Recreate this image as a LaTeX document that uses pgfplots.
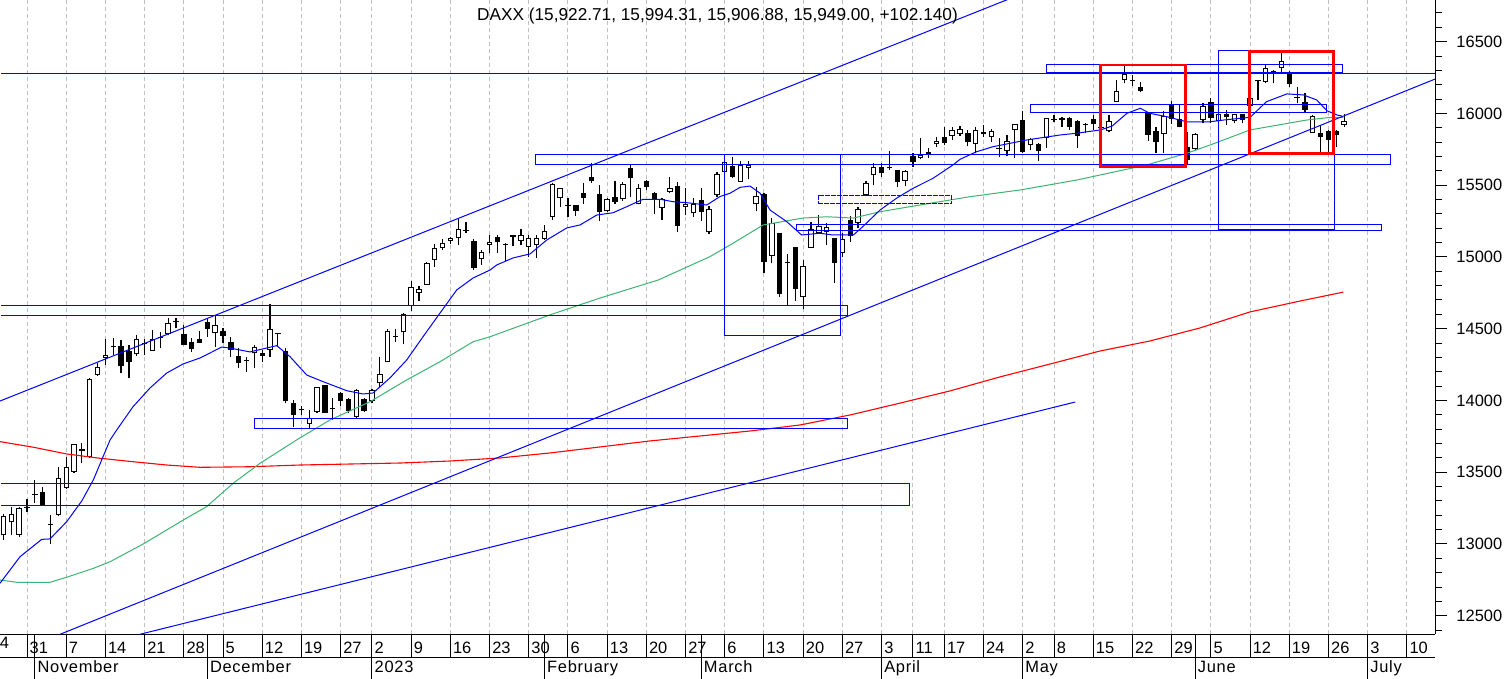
\documentclass[border=0pt]{standalone}
\usepackage{fontspec}
\setmainfont{Liberation Sans}
\usepackage{pgfplots}
\pgfplotsset{compat=1.18}
\usepackage{pgfplotstable}
\definecolor{mablue}{RGB}{0,0,255}
\definecolor{magreen}{RGB}{60,179,113}
\definecolor{gridgray}{RGB}{192,192,192}
\definecolor{mared}{RGB}{255,0,0}

\pgfplotstableread{
x o h l c
2 13062 13209 13027 13197
3 13151 13260 13062 13206
4 13062 13255 13050 13248
5 13253 13313 13225 13260
6 13343 13446 13288 13350
7 13360 13395 13262 13267
8 13140 13202 13000 13133
9 13202 13539 13195 13457
10 13392 13608 13383 13534
11 13504 13694 13492 13694
12 13650 13701 13562 13664
13 13608 14154 13600 14150
14 14180 14263 14173 14231
15 14298 14426 14247 14319
16 14369 14433 14317 14376
17 14379 14421 14189 14242
18 14345 14386 14154 14270
19 14321 14456 14312 14426
20 14393 14426 14317 14400
21 14347 14491 14347 14426
22 14433 14479 14363 14440
23 14461 14572 14456 14537
24 14549 14572 14503 14556
25 14461 14526 14386 14386
26 14410 14433 14340 14359
27 14426 14484 14403 14403
28 14544 14572 14445 14496
29 14468 14595 14375 14526
30 14484 14503 14398 14451
31 14405 14444 14305 14352
32 14310 14363 14224 14263
33 14285 14305 14201 14278
34 14328 14386 14224 14370
35 14330 14352 14270 14310
36 14352 14670 14305 14496
37 14470 14470 14375 14462
38 14345 14363 13984 13996
39 13980 14003 13817 13896
40 13937 13960 13900 13930
41 13834 13933 13799 13880
42 13922 14096 13915 14096
43 14108 14108 13910 13915
44 13940 14015 13864 13947
45 14050 14061 13961 13999
46 14010 14015 13915 13929
47 13887 14078 13880 14073
48 14008 14015 13922 13929
49 13996 14078 13980 14073
50 14119 14305 14084 14182
51 14266 14496 14266 14486
52 14444 14496 14410 14451
53 14475 14612 14391 14602
54 14658 14832 14626 14793
55 14746 14798 14695 14774
56 14805 14968 14805 14956
57 14979 15088 14932 15060
58 15060 15123 15048 15095
59 15111 15141 15088 15130
60 15130 15269 15083 15192
61 15183 15246 15165 15190
62 15111 15123 14909 14925
63 14983 15048 14944 15034
64 15083 15153 15025 15102
65 15137 15153 15030 15102
66 15083 15095 14974 15090
67 15150 15150 15076 15137
68 15111 15193 15083 15151
69 15072 15153 15002 15130
70 15083 15153 14995 15130
71 15125 15223 15118 15181
72 15276 15513 15257 15508
73 15408 15482 15350 15478
74 15357 15408 15281 15364
75 15360 15362 15285 15322
76 15448 15513 15369 15413
77 15555 15652 15518 15532
78 15436 15501 15253 15316
79 15320 15408 15316 15401
80 15415 15529 15369 15385
81 15401 15525 15392 15508
82 15618 15645 15420 15548
83 15367 15508 15367 15478
84 15529 15536 15467 15485
85 15443 15455 15299 15402
86 15339 15408 15257 15401
87 15455 15559 15443 15478
88 15494 15525 15172 15218
89 15350 15478 15292 15369
90 15304 15408 15281 15369
91 15397 15478 15253 15316
92 15172 15355 15158 15332
93 15432 15594 15420 15576
94 15594 15676 15571 15659
95 15634 15699 15548 15559
96 15525 15671 15525 15641
97 15617 15671 15541 15638
98 15367 15490 15322 15427
99 15439 15443 14886 14967
100 15009 15269 14955 15234
101 15165 15169 14723 14739
102 14960 15021 14665 14967
103 15072 15072 14695 14774
104 14718 14979 14635 14937
105 15065 15246 15065 15192
106 15169 15292 15160 15216
107 15176 15234 15083 15211
108 15130 15130 14821 14960
109 15030 15170 15000 15128
110 15257 15285 15106 15146
111 15239 15346 15199 15332
112 15432 15532 15425 15518
113 15569 15652 15501 15624
114 15624 15652 15559 15583
115 15629 15738 15606 15617
116 15606 15606 15490 15525
117 15529 15606 15494 15599
118 15703 15722 15629 15664
119 15687 15827 15680 15710
120 15715 15757 15687 15729
121 15785 15838 15768 15808
122 15833 15908 15780 15792
123 15845 15908 15815 15885
124 15854 15910 15845 15892
125 15862 15885 15770 15803
126 15785 15903 15722 15885
127 15854 15920 15838 15868
128 15834 15892 15804 15878
129 15755 15826 15699 15762
130 15738 15850 15704 15808
131 15885 15924 15692 15924
132 15954 16017 15722 15734
133 15780 15827 15745 15820
134 15785 15792 15671 15741
135 15831 15966 15762 15966
136 15956 15989 15938 15963
137 15954 15978 15908 15966
138 15971 15978 15885 15903
139 15947 15954 15762 15843
140 15921 15931 15862 15928
141 15959 15989 15885 15924
142 15896 15908 15885 15903
143 15880 15989 15868 15950
144 16078 16233 16078 16159
145 16233 16338 16210 16273
146 16228 16268 16191 16235
147 16182 16217 16147 16159
148 16001 16012 15810 15850
149 15878 15908 15727 15803
150 15855 16017 15727 15985
151 16064 16087 15927 15959
152 15961 16064 15903 15903
153 15768 15873 15640 15676
154 15750 15866 15745 15857
155 15955 16071 15931 16052
156 16077 16105 15931 15971
157 15947 15996 15943 15996
158 15996 16024 15919 15973
159 15950 15996 15936 15994
160 15996 15996 15931 15954
161 16054 16110 16047 16105
162 16223 16230 16094 16230
163 16221 16345 16210 16314
164 16291 16303 16210 16298
165 16314 16419 16291 16365
166 16272 16298 16187 16205
167 16105 16182 16070 16112
168 16077 16140 16006 16024
169 15866 15989 15861 15982
170 15861 15919 15734 15838
171 15880 15884 15722 15815
172 15880 15884 15768 15850
173 15922.71 15994.31 15906.88 15949
}\candles

\pgfplotstableread{
x y
1.556 12726
4.11 12911
6.875 13032
7.93 13035
10.06 13155
11.98 13299
13.46 13446
15.59 13724
16.44 13794
18.52 13956
20.69 14087
22.82 14191
24.9 14254
27.07 14296
29.83 14372
30.89 14365
33.44 14338
36.85 14382
38.55 14305
40.68 14177
42.76 14131
45.78 14068
47.86 14045
49.13 14052
51.3 14157
53.43 14282
55.51 14444
57.68 14609
59.81 14770
61.89 14853
64.06 14909
64.91 14944
66.99 14993
69.16 15021
71.29 15118
73.84 15202
75.54 15223
77.67 15292
79.75 15308
81.49 15350
83.57 15402
85.74 15402
87.4 15385
89.15 15378
91.7 15362
93.4 15421
94.67 15444
95.95 15485
97.22 15494
98.5 15444
99.77 15327
101.9 15246
103.8 15153
106.15 15165
107.8 15153
110.4 15153
111.6 15211
113.8 15327
115.9 15409
118 15478
120.56 15548
123.1 15641
124 15680
126.1 15733
128.2 15768
132.5 15815
136.8 15850
138.9 15862
141.9 15885
143.4 15912
145.3 16001
147 16036
148.2 16001
150.4 15977
152.9 15942
155.9 15942
157.6 15954
161 15973
163.1 16082
165.7 16136
167.8 16129
169.5 16094
170.8 16019
172.1 15989
172.7 15982
}\maTwenty

\pgfplotstableread{
x y
1.556 12749
3.69 12733
7.93 12733
10.06 12768
13.46 12830
15.59 12876
19.83 13000
24.94 13167
27.92 13260
31.3 13423
34.72 13562
39.57 13731
43.65 13864
48.75 13991
53.43 14143
57.68 14270
61.89 14409
64.06 14444
71.7 14596
78.1 14714
85.5 14839
92.1 15002
94.67 15083
98.9 15223
103.98 15271
107.04 15280
110.4 15271
113.8 15315
118.9 15362
125.3 15420
131.7 15467
138.9 15536
147.8 15641
152.9 15722
155.9 15780
161 15885
168.2 15954
170.8 15970
172.9 15973
}\maFifty

\pgfplotstableread{
x y
1.556 13713
5.8 13674
10.06 13627
14.31 13597
18.52 13573
22.82 13550
27.07 13534
33.44 13538
39.8 13550
46.2 13557
52.6 13564
58.95 13578
65.3 13599
71.7 13634
78.1 13676
84.5 13718
90.8 13752
97.2 13787
103.6 13829
110 13899
116.4 13982
122.7 14066
129.1 14164
135.5 14254
141.9 14345
148.2 14414
154.6 14505
161 14617
167.4 14693
172.9 14755
}\maTwoHundred

\begin{document}
\begin{tikzpicture}[x=1bp,y=1bp]
\begin{axis}[
  scale only axis, width=1435bp, height=634.3bp,
  xmin=1.5561, xmax=184.592, ymin=12370.4, ymax=16790.6,
  axis x line*=bottom, axis y line*=right,
  axis line style={black, line width=1bp},
  tick align=outside,
  xtick={5,10,15,20,25,30,35,40,45,49,54,59,64,69,74,79,84,89,94,99,104,109,114,118,122,127,132,136,141,146,151,156,161,166,171,176,181},
  xticklabels={31,7,14,21,28,5,12,19,27,2,9,16,23,30,6,13,20,27,6,13,20,27,3,11,17,24,2,8,15,22,29,5,12,19,26,3,10},
  minor x tick num=0,
  xtick style={black, line width=1bp, /pgfplots/major tick length=23.7bp},
  xticklabel style={anchor=base west, inner sep=0pt, xshift=2.5bp, yshift=-14.7bp},
  ytick={12000,12500,...,17000},
  minor y tick num=4,
  scaled y ticks=false,
  ytick style={black, line width=1bp, /pgfplots/major tick length=11.7bp, /pgfplots/minor tick length=6.7bp},
  yticklabel style={anchor=west, inner sep=0pt, xshift=17bp},
  every tick label/.append style={font=\fontsize{16.5}{18}\selectfont},
  /pgf/number format/assume math mode=true,
  /pgf/number format/1000 sep={},
  /pgf/number format/fixed,
]
% weekly grid lines
\pgfplotsinvokeforeach{5,10,15,20,25,30,35,40,45,49,54,59,64,69,74,79,84,89,94,99,104,109,114,118,122,127,132,136,141,146,151,156,161,166,171,176,181}{
  \addplot[gridgray, no markers, line width=1bp, dash pattern=on 4bp off 3bp, forget plot] coordinates {(#1,12370.4) (#1,16790.6)};
}
% wicks
\addplot[only marks, mark options={draw=none,fill=none}, mark size=0pt,
  error bars/.cd, y dir=plus, y explicit, error mark=none,
  error bar style={line width=1.2bp, black, solid}]
  table[x=x, y=l, y error expr={\thisrow{h}-\thisrow{l}}] {\candles};
% bodies
\addplot[only marks, mark options={draw=none,fill=none}, mark size=0pt,
  error bars/.cd, y dir=plus, y explicit, error mark=none,
  error bar style={line width=5.4bp, black, solid}]
  table[x=x, y expr={min(\thisrow{o},\thisrow{c})}, y error expr={max(abs(\thisrow{c}-\thisrow{o}),7)}] {\candles};
% white inner of rising candles
\addplot[only marks, mark options={draw=none,fill=none}, mark size=0pt,
  restrict expr to domain={\thisrow{c}-\thisrow{o}}{14.5:100000},
  error bars/.cd, y dir=plus, y explicit, error mark=none,
  error bar style={line width=3.4bp, white, solid}]
  table[x=x, y expr={\thisrow{o}+7}, y error expr={\thisrow{c}-\thisrow{o}-14}] {\candles};

% moving averages
\addplot[mared, no markers, line width=1.1bp] table[x=x,y=y] {\maTwoHundred};
\addplot[magreen, no markers, line width=1bp] table[x=x,y=y] {\maFifty};
\addplot[mablue, no markers, line width=1bp] table[x=x,y=y] {\maTwenty};

% trend lines
\addplot[mablue, no markers, line width=1bp] coordinates {(1.5561,13996) (135,16901)};
\addplot[mablue, no markers, line width=1bp] coordinates {(9.21,12370.4) (184.59,16239.4)};
\addplot[mablue, no markers, line width=1bp] coordinates {(19.4,12370.4) (138.7,13989)};
\addplot[draw=mablue, no markers, line width=1bp] coordinates {(1.7,16275) (184.59,16275)};

% boxes
\begin{scope}[line cap=rect]
\addplot[mablue, no markers, line width=1bp] coordinates {(135.0,16285) (172.8,16285) (172.8,16338) (135.0,16338) (135.0,16285)};
\addplot[mablue, no markers, line width=1bp] coordinates {(133.0,16008) (170.8,16008) (170.8,16064) (133.0,16064) (133.0,16008)};
\addplot[mablue, no markers, line width=1bp] coordinates {(69.8,15645.6) (178.9,15645.6) (178.9,15715.3) (69.8,15715.3) (69.8,15645.6)};
\addplot[mablue, no markers, line width=1bp] coordinates {(93.94,14456) (108.79,14456) (108.79,15715.3) (93.94,15715.3) (93.94,14456)};
\addplot[draw=mablue, no markers, line width=1bp] coordinates {(1.7,14593) (109.7,14593) (109.7,14663) (1.7,14663)};
\addplot[mablue, no markers, line width=1bp] coordinates {(34.0,13806) (109.7,13806) (109.7,13876) (34.0,13876) (34.0,13806)};
\addplot[draw=mablue, no markers, line width=1bp] coordinates {(1.7,13264.5) (117.6,13264.5) (117.6,13422.7) (1.7,13422.7)};
\addplot[mablue, no markers, line width=1bp, dash pattern=on 4bp off 2bp] coordinates {(105.9,15369) (122.9,15369) (122.9,15430) (105.9,15430) (105.9,15369)};
\addplot[mablue, no markers, line width=1bp] coordinates {(103.1,15181) (177.8,15181) (177.8,15223) (103.1,15223) (103.1,15181)};
\addplot[mablue, no markers, line width=1bp] coordinates {(157.0,15187.8) (171.75,15187.8) (171.75,16442) (157.0,16442) (157.0,15187.8)};
\addplot[mared, no markers, line width=2.7bp] coordinates {(141.95,15631.7) (152.8,15631.7) (152.8,16337.6) (141.95,16337.6) (141.95,15631.7)};
\addplot[mared, no markers, line width=2.7bp] coordinates {(160.96,15719.5) (171.6,15719.5) (171.6,16433) (160.96,16433) (160.96,15719.5)};
\end{scope}

% month starts on the x axis
\coordinate (m1) at (axis cs:6,12370.4);
\coordinate (m2) at (axis cs:28,12370.4);
\coordinate (m3) at (axis cs:49,12370.4);
\coordinate (m4) at (axis cs:71,12370.4);
\coordinate (m5) at (axis cs:91,12370.4);
\coordinate (m6) at (axis cs:114,12370.4);
\coordinate (m7) at (axis cs:132,12370.4);
\coordinate (m8) at (axis cs:154,12370.4);
\coordinate (m9) at (axis cs:176,12370.4);
\end{axis}
\draw[black, line width=1bp] (0,-23.7) -- (1435,-23.7);
\foreach \c/\t in {m1/November,m2/December,m3/2023,m4/February,m5/March,m6/April,m7/May,m8/June,m9/July}{
  \draw[black, line width=1bp] (\c) -- ++(0,-44.7);
  \path (\c) ++(2.5,-38.7) node[anchor=base west, inner sep=0pt, font=\fontsize{16.5}{18}\selectfont\addfontfeatures{LetterSpace=4.5}] {\t};
}
\node[anchor=base west, inner sep=0pt, font=\fontsize{16.5}{18}\selectfont] at (-0.3,-14.7) {4};
\node[anchor=base, inner sep=0pt, font=\fontsize{17.3}{19}\selectfont] at (717.5,613.3) {DAXX (15,922.71, 15,994.31, 15,906.88, 15,949.00, +102.140)};
\pgfresetboundingbox
\path[use as bounding box] (0,-44.7) rectangle (1506,634.3);
\end{tikzpicture}
\end{document}
